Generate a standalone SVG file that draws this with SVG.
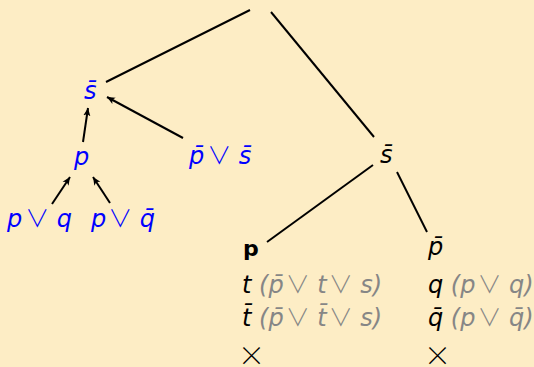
<svg xmlns="http://www.w3.org/2000/svg" width="534" height="367" viewBox="0 0 534 367">
<defs>
<marker id="arr" viewBox="0 0 10 10" refX="10" refY="5" markerWidth="8" markerHeight="8" markerUnits="userSpaceOnUse" orient="auto">
<path d="M0,0.5 L10,5 L0,9.5 L2.5,5 Z" fill="#000"/>
</marker>
<style>
.m{font-family:"DejaVu Sans",sans-serif;font-style:italic;font-size:24px}
.v{font-family:"Noto Sans CJK JP",sans-serif;font-style:normal;font-weight:300;font-size:24px}
.b{fill:#0000ff}
.k{fill:#000}
.g{fill:#868686}
.e{stroke:#000;stroke-width:2;fill:none}
.x{font-family:"Noto Sans CJK JP",sans-serif;font-weight:300;font-size:27px;fill:#000}
</style>
</defs>
<rect width="534" height="367" fill="#fdedc5"/>
<g id="connectors">
<line class="e" x1="250" y1="10" x2="106" y2="82"/>
<line class="e" x1="271" y1="12" x2="374" y2="137"/>
<line class="e" x1="83" y1="142" x2="88" y2="108" marker-end="url(#arr)"/>
<line class="e" x1="183" y1="138" x2="107" y2="97" marker-end="url(#arr)"/>
<line class="e" x1="52" y1="204" x2="70" y2="177" marker-end="url(#arr)"/>
<line class="e" x1="110" y1="203" x2="93" y2="177" marker-end="url(#arr)"/>
<line class="e" x1="373" y1="165" x2="267" y2="242"/>
<line class="e" x1="397" y1="172" x2="427" y2="232"/>
</g>
<g id="n-sbar-blue"><text class="m b" x="84" y="99">s̄</text></g>
<g id="n-p-blue"><text class="m b" x="74" y="165">p</text></g>
<g id="n-pbar-or-sbar"><text class="m b" x="189" y="164">p̄<tspan class="v" dx="3">∨</tspan> s̄</text></g>
<g id="n-p-or-q"><text class="m b" x="7" y="227">p<tspan class="v" dx="3">∨</tspan> q</text></g>
<g id="n-p-or-qbar"><text class="m b" x="91" y="227">p<tspan class="v" dx="2">∨</tspan> q̄</text></g>
<g id="n-sbar-black"><text class="m k" x="380" y="163">s̄</text></g>
<g id="n-left">
<text x="243" y="256" style="font-family:'DejaVu Sans',sans-serif;font-weight:bold;font-size:22px" fill="#000">p</text>
<text class="m" x="242" y="293"><tspan class="k">t</tspan><tspan class="g"> (p̄<tspan class="v" dx="2">∨</tspan> t<tspan class="v" dx="2">∨</tspan> s)</tspan></text>
<text class="m" x="242" y="326"><tspan class="k">t̄</tspan><tspan class="g"> (p̄<tspan class="v" dx="2">∨</tspan> t̄<tspan class="v" dx="2">∨</tspan> s)</tspan></text>
<text class="x" x="238" y="366">×</text>
</g>
<g id="n-right">
<text class="m k" x="428" y="255">p̄</text>
<text class="m" x="428" y="293"><tspan class="k">q</tspan><tspan class="g"> (p<tspan class="v" dx="2">∨</tspan> q)</tspan></text>
<text class="m" x="428" y="326"><tspan class="k">q̄</tspan><tspan class="g"> (p<tspan class="v" dx="2">∨</tspan> q̄)</tspan></text>
<text class="x" x="424" y="366">×</text>
</g>
</svg>
